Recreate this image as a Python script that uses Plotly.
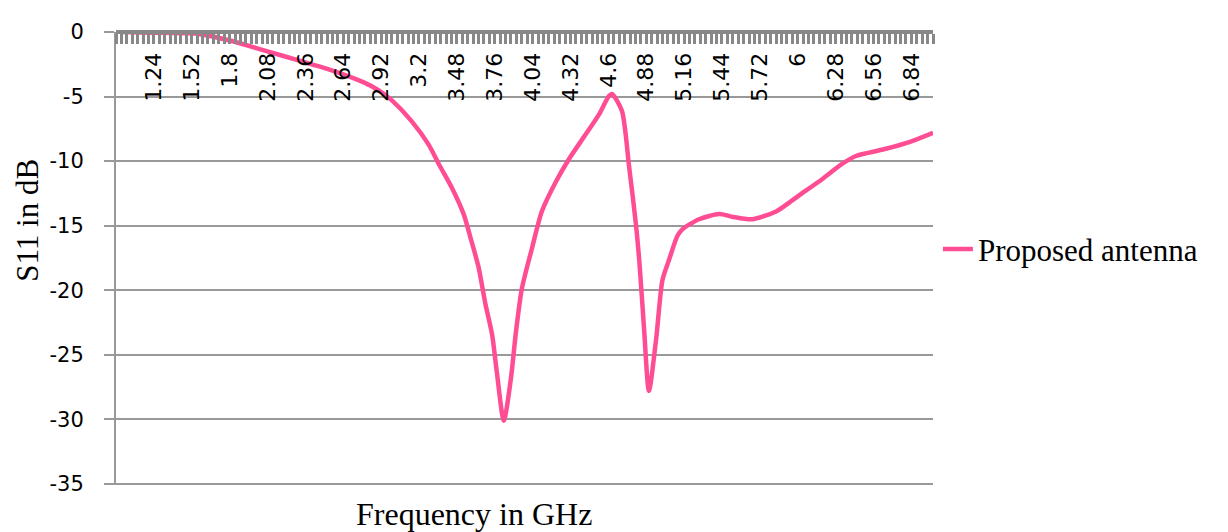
import plotly.graph_objects as go

# S11 curve
freq_ghz = [1.00, 1.20, 1.49, 1.57, 1.81, 2.06, 2.31, 2.55, 2.80, 2.90, 3.00,
            3.145, 3.27, 3.345, 3.44, 3.53, 3.58, 3.64, 3.69, 3.74, 3.775, 3.827,
            3.88, 3.916, 3.96, 4.034, 4.108, 4.212, 4.308, 4.434, 4.53, 4.604, 4.627,
            4.70, 4.753, 4.804, 4.83, 4.864, 4.90, 4.953, 5.00, 5.05, 5.11, 5.145,
            5.27, 5.42, 5.515, 5.66, 5.84, 6.01, 6.18, 6.33, 6.43, 6.63, 6.83, 7.00]
s11_db = [0.0, -0.05, -0.1, -0.15, -0.68, -1.44, -2.2, -2.95, -3.94, -4.5, -5.3,
          -6.9, -8.7, -10.2, -12.0, -14.1, -15.9, -18.2, -21.0, -23.4, -26.3, -30.1,
          -26.8, -23.3, -19.9, -16.8, -13.9, -11.6, -9.85, -7.9, -6.4, -4.95, -4.8,
          -6.1, -10.4, -14.9, -17.9, -23.0, -27.8, -23.8, -19.2, -17.6, -15.8, -15.3,
          -14.5, -14.1, -14.3, -14.5, -13.9, -12.65, -11.4, -10.2, -9.6, -9.1, -8.5, -7.8]

x_tick_vals = [1.24, 1.52, 1.80, 2.08, 2.36, 2.64, 2.92, 3.20, 3.48, 3.76, 4.04,
               4.32, 4.60, 4.88, 5.16, 5.44, 5.72, 6.00, 6.28, 6.56, 6.84]
x_tick_text = ["1.24", "1.52", "1.8", "2.08", "2.36", "2.64", "2.92", "3.2", "3.48",
               "3.76", "4.04", "4.32", "4.6", "4.88", "5.16", "5.44", "5.72", "6",
               "6.28", "6.56", "6.84"]
y_tick_vals = [0, -5, -10, -15, -20, -25, -30, -35]
y_tick_text = ["0", "-5", "-10", "-15", "-20", "-25", "-30", "-35"]

grey = "#999999"
serif = "Liberation Serif"

fig = go.Figure()
fig.add_trace(go.Scatter(
    x=freq_ghz, y=s11_db, mode="lines", name="Proposed antenna",
    line=dict(color="#FF4D94", width=4.5, shape="spline", smoothing=0.7),
))

# page body adds an 8px offset, so the margins are pulled in by 8
fig.update_layout(
    width=1228, height=532,
    margin=dict(l=108, r=303, t=14, b=55),
    paper_bgcolor="white", plot_bgcolor="white",
    showlegend=True,
    legend=dict(x=1.006, y=0.52, xanchor="left", yanchor="middle",
                font=dict(family=serif, size=31, color="black"),
                itemwidth=30, bgcolor="rgba(0,0,0,0)"),
    xaxis=dict(
        range=[0.96, 7.0], anchor="free", position=1, side="bottom",
        tickmode="array", tickvals=x_tick_vals, ticktext=x_tick_text,
        tickangle=-90, tickfont=dict(family="DejaVu Sans", size=22, color="black"),
        ticks="outside", ticklen=10, tickwidth=3, tickcolor="#888888",
        minor=dict(dtick=0.04, tick0=0.96, ticks="outside", ticklen=10,
                   tickwidth=3, tickcolor="#888888"),
        showline=True, linecolor="#888888", linewidth=4,
        showgrid=False, zeroline=False,
    ),
    yaxis=dict(
        range=[-35.08, 0], tickmode="array", tickvals=y_tick_vals, ticktext=y_tick_text,
        tickfont=dict(family="DejaVu Sans", size=21, color="black"),
        ticks="outside", ticklen=10, tickwidth=2, tickcolor=grey,
        ticklabelstandoff=16,
        showgrid=True, gridcolor=grey, gridwidth=2,
        showline=True, linecolor=grey, linewidth=2,
        zeroline=False,
    ),
    annotations=[
        dict(text="Frequency in GHz", x=0.438, y=-0.02, xref="paper", yref="paper",
             xanchor="center", yanchor="top", showarrow=False,
             font=dict(family=serif, size=32, color="black")),
        dict(text="S11 in dB", x=-0.108, y=0.585, xref="paper", yref="paper",
             xanchor="center", yanchor="middle", textangle=-90, showarrow=False,
             font=dict(family=serif, size=31, color="black")),
    ],
)

fig.write_html("out.html")
